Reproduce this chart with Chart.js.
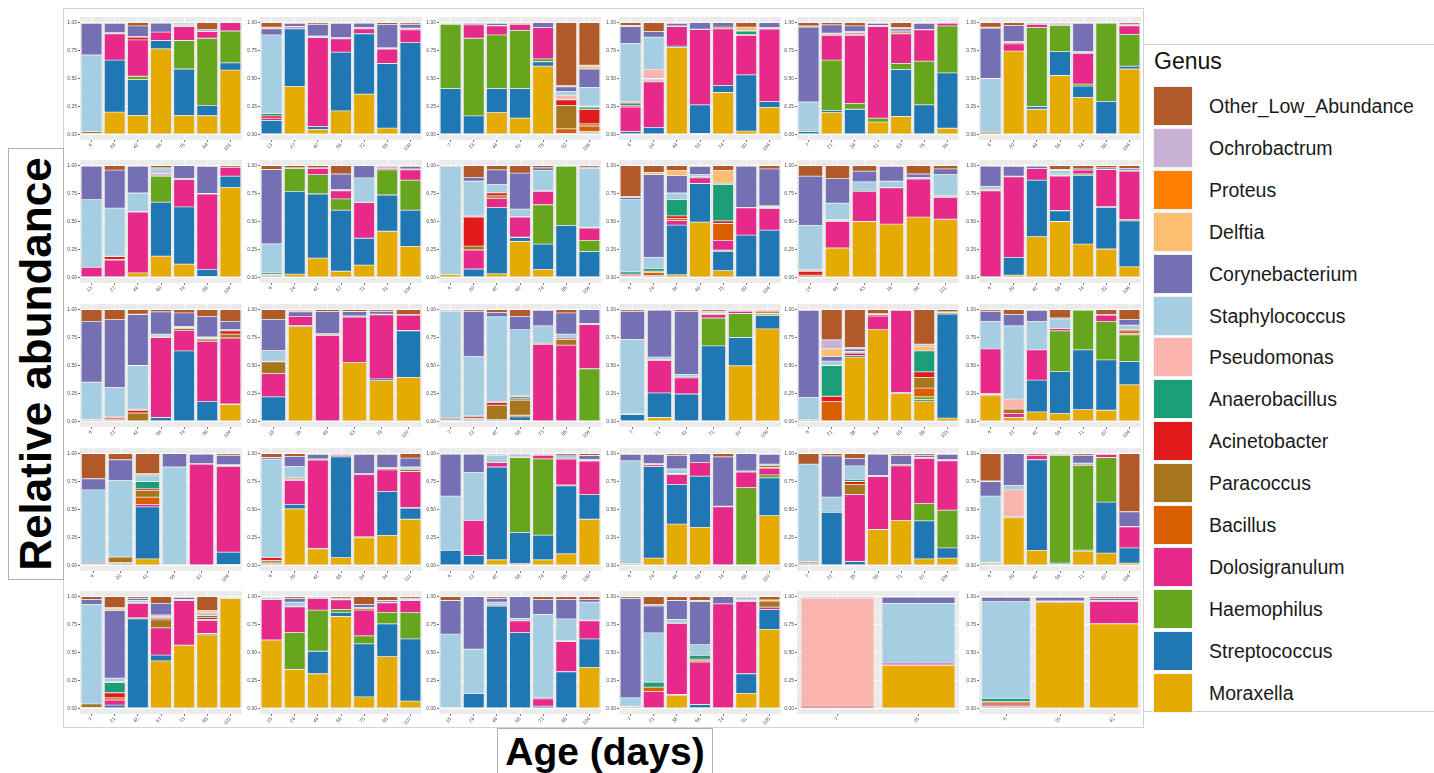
<!DOCTYPE html>
<html>
<head>
<meta charset="utf-8">
<script src="https://cdn.jsdelivr.net/npm/chart.js@4.4.1/dist/chart.umd.min.js"></script>
<style>
  html, body { margin: 0; padding: 0; background: #ffffff; }
  body { width: 1434px; height: 773px; position: relative; overflow: hidden;
         font-family: "Liberation Sans", Arial, Helvetica, sans-serif; }
  .panel { position: absolute; }
  .frame { position: absolute; border: 1px solid #d4d4d4; box-sizing: border-box; }
  #ylab { position: absolute; left: 8px; top: 148px; width: 56px; height: 432px;
          border: 1px solid #b0b0b0; box-sizing: border-box; background: #fff; }
  #ylab span { position: absolute; left: 50%; top: 50%; white-space: nowrap;
               transform: translate(-50%, -50%) rotate(-90deg);
               font-weight: bold; font-size: 44px; color: #000; }
  #xlab { position: absolute; left: 497px; top: 728px; width: 216px; height: 45px;
          border: 1px solid #b0b0b0; border-bottom: none; box-sizing: border-box; background: #fff;
          text-align: center; font-weight: bold; font-size: 39px; line-height: 45px; color: #000; }
  #legend { position: absolute; left: 1143px; top: 44px; width: 291px; height: 668px;
            border-top: 1px solid #d0d0d0; border-left: 1px solid #d0d0d0; border-bottom: 1px solid #d0d0d0;
            box-sizing: border-box; background: #fff; }
  #legend .title { position: absolute; left: 10px; top: 3px; font-size: 23px; color: #111; }
  #legend .item { position: absolute; left: 9px; height: 41px; }
  #legend .sw { position: absolute; left: 0; top: 0; width: 40px; height: 40px; box-sizing: border-box;
                border: 1px solid #f2f2f2; }
  #legend .lab { position: absolute; left: 56px; top: 0; line-height: 40px; font-size: 19.5px;
                 color: #1a1a1a; white-space: nowrap; }
</style>
</head>
<body>
<div class="frame" style="left:63px;top:8px;width:1081px;height:720px;"></div>
<div id="panels"></div>
<div id="ylab"><span>Relative abundance</span></div>
<div id="xlab">Age (days)</div>
<div id="legend"></div>

<script>
// Genera, bottom of each stack first.
const genusCodes  = ['M','S','H','D','B','P','A','N','U','T','C','F','R','O','X'];
const genusNames  = ['Moraxella','Streptococcus','Haemophilus','Dolosigranulum','Bacillus','Paracoccus',
                     'Acinetobacter','Anaerobacillus','Pseudomonas','Staphylococcus','Corynebacterium',
                     'Delftia','Proteus','Ochrobactrum','Other_Low_Abundance'];
const genusColors = ['#E6AB02','#1F78B4','#66A61E','#E7298A','#D95F02','#A6761D',
                     '#E31A1C','#1B9E77','#FBB4AE','#A6CEE3','#7570B3',
                     '#FDBF6F','#FF7F00','#CAB2D6','#B15928'];
const yTicks = [0, 0.25, 0.5, 0.75, 1];

// ---- Row 1 ----
const ages_r1c1 = ['6','20','42','56','76','84','101'];
const bars_r1c1 = [
  {M:.01,P:.015,T:.685,C:.28,X:.01},
  {M:.2,S:.465,D:.235,T:.01,C:.08,X:.01},
  {M:.17,S:.32,H:.03,D:.325,A:.025,T:.005,C:.095,X:.03},
  {M:.765,S:.075,D:.075,C:.08,X:.005},
  {M:.17,S:.415,H:.255,D:.125,N:.01,T:.01,C:.01,X:.005},
  {M:.167,S:.093,H:.6,D:.06,T:.005,C:.015,X:.06},
  {M:.575,S:.065,H:.285,D:.075}
];
const ages_r1c2 = ['13','27','42','56','72','85','100'];
const bars_r1c2 = [
  {M:.005,S:.12,D:.02,A:.02,N:.02,T:.705,C:.055,F:.015,X:.04},
  {M:.43,S:.515,D:.015,T:.005,C:.025,X:.01},
  {M:.045,S:.025,D:.795,N:.005,T:.01,C:.105,X:.015},
  {M:.21,S:.525,D:.12,T:.01,C:.125,X:.01},
  {M:.36,S:.54,D:.045,P:.01,C:.04,X:.005},
  {M:.057,S:.577,D:.13,A:.005,T:.005,C:.21,X:.016},
  {M:.005,S:.815,D:.115,A:.01,T:.005,C:.035,X:.015}
];
const ages_r1c3 = ['7','23','44','61','75','92','106'];
const bars_r1c3 = [
  {M:.005,S:.405,H:.575,T:.005,C:.005,X:.005},
  {M:.005,S:.16,H:.695,D:.12,C:.01,X:.01},
  {M:.195,S:.215,H:.48,D:.08,T:.005,C:.015,X:.01},
  {M:.145,S:.265,H:.52,D:.055,C:.005,X:.01},
  {M:.61,S:.04,H:.025,D:.28,C:.045},
  {M:.005,S:.005,N:.005,B:.04,P:.21,A:.05,U:.035,T:.035,C:.04,O:.01,X:.565},
  {M:.015,S:.01,B:.05,P:.02,A:.13,N:.02,U:.01,T:.165,C:.165,F:.025,O:.01,X:.38}
];
const ages_r1c4 = ['6','24','44','59','74','89','104'];
const bars_r1c4 = [
  {M:.005,S:.02,D:.22,A:.015,N:.02,U:.015,T:.52,C:.15,F:.01,X:.025},
  {M:.005,S:.058,D:.407,A:.01,P:.01,N:.01,U:.08,T:.29,C:.05,X:.08},
  {M:.778,S:.012,D:.175,N:.005,C:.02,X:.01},
  {M:.01,S:.255,D:.672,T:.005,C:.058},
  {M:.375,S:.063,D:.507,P:.015,C:.04},
  {M:.03,S:.503,D:.352,A:.01,N:.03,F:.03,C:.005,X:.04},
  {M:.242,S:.052,D:.648,A:.005,T:.008,C:.045}
];
const ages_r1c5 = ['7','21','34','51','63','76','96'];
const bars_r1c5 = [
  {M:.005,S:.02,A:.005,N:.01,T:.25,C:.67,F:.01,X:.03},
  {M:.195,S:.02,H:.45,D:.22,A:.01,N:.005,T:.005,C:.075,X:.02},
  {M:.005,S:.22,H:.05,D:.61,B:.01,A:.01,N:.005,T:.01,C:.05,X:.03},
  {M:.11,H:.035,D:.82,T:.01,C:.015,X:.01},
  {M:.16,S:.42,H:.055,D:.265,A:.01,P:.015,F:.01,C:.02,X:.045},
  {M:.005,S:.26,H:.39,D:.28,T:.005,C:.05,X:.01},
  {M:.055,S:.495,H:.42,D:.025,X:.005}
];
const ages_r1c6 = ['6','20','44','56','74','88','104'];
const bars_r1c6 = [
  {M:.005,P:.015,T:.48,C:.45,F:.01,X:.04},
  {M:.745,D:.065,A:.01,T:.01,C:.145,X:.025},
  {M:.225,S:.025,H:.705,D:.03,C:.01,X:.005},
  {M:.527,S:.213,H:.235,D:.01,C:.01,X:.005},
  {M:.331,S:.101,H:.018,D:.276,A:.005,T:.01,C:.249,X:.01},
  {M:.005,S:.29,H:.7,D:.005},
  {M:.585,S:.025,H:.285,D:.075,T:.005,C:.01,X:.015}
];

// ---- Row 2 ----
const ages_r2c1 = ['13','27','44','60','74','88','104'];
const bars_r2c1 = [
  {M:.005,D:.085,T:.605,C:.3,X:.005},
  {M:.005,D:.15,A:.025,P:.005,N:.005,T:.43,C:.34,X:.04},
  {M:.04,D:.545,A:.005,T:.165,C:.24,X:.005},
  {M:.19,S:.483,H:.232,D:.01,A:.01,N:.005,T:.04,C:.01,X:.02},
  {M:.118,S:.512,D:.246,T:.01,C:.114},
  {M:.01,S:.062,D:.674,N:.005,C:.239,X:.01},
  {M:.803,S:.102,D:.08,X:.015}
];
const ages_r2c2 = ['6','24','42','57','72','91','104'];
const bars_r2c2 = [
  {M:.005,S:.01,P:.01,A:.005,N:.015,T:.255,C:.665,X:.035},
  {M:.03,S:.74,H:.205,D:.005,X:.02},
  {M:.173,S:.573,H:.173,D:.056,C:.005,X:.02},
  {M:.055,S:.546,H:.101,D:.073,A:.005,T:.005,C:.14,X:.075},
  {M:.11,S:.24,N:.005,D:.318,T:.217,C:.11},
  {M:.413,S:.324,H:.225,D:.013,T:.005,C:.01,X:.01},
  {M:.277,S:.324,H:.269,D:.092,T:.008,C:.02,X:.01}
];
const ages_r2c3 = ['6','20','42','60','74','88','106'];
const bars_r2c3 = [
  {M:.025,T:.97,X:.005},
  {M:.005,S:.07,D:.17,P:.035,A:.26,U:.01,T:.31,C:.035,X:.105},
  {M:.032,S:.592,D:.084,P:.022,A:.027,T:.075,C:.13,X:.038},
  {M:.321,S:.034,D:.18,H:.005,N:.005,T:.065,C:.323,X:.067},
  {M:.07,S:.228,H:.352,D:.12,N:.005,T:.18,C:.025,X:.02},
  {M:.005,S:.46,H:.53,X:.005},
  {M:.005,S:.226,H:.101,D:.11,A:.008,T:.525,C:.01,X:.015}
];
const ages_r2c4 = ['6','24','34','60','75','89','104'];
const bars_r2c4 = [
  {M:.005,S:.005,D:.01,A:.01,N:.02,T:.645,C:.02,O:.01,X:.275},
  {M:.005,S:.01,B:.03,A:.01,N:.025,T:.1,C:.74,F:.02,X:.06},
  {M:.023,S:.445,D:.04,B:.02,A:.022,N:.145,T:.06,C:.155,F:.045,X:.045},
  {M:.494,S:.346,D:.05,N:.01,T:.02,C:.07,X:.01},
  {M:.06,S:.174,H:.01,D:.088,B:.15,A:.024,N:.326,F:.116,C:.01,X:.042},
  {M:.005,S:.374,D:.242,T:.005,C:.369,X:.005},
  {M:.005,S:.417,D:.193,B:.01,U:.01,T:.005,C:.33,X:.03}
];
const ages_r2c5 = ['14','46','63','78','94','111'];
const bars_r2c5 = [
  {M:.005,P:.015,A:.035,U:.015,T:.395,C:.44,X:.095},
  {M:.263,D:.235,A:.01,U:.01,T:.145,C:.22,X:.117},
  {M:.5,D:.27,N:.01,T:.075,C:.095,X:.05},
  {M:.477,D:.323,N:.005,T:.055,C:.13,X:.01},
  {M:.54,D:.34,T:.015,C:.03,X:.075},
  {M:.52,D:.197,U:.013,T:.19,C:.05,X:.03}
];
const ages_r2c6 = ['6','20','42','56','74','92','106'];
const bars_r2c6 = [
  {M:.005,D:.77,U:.01,T:.03,C:.18,X:.005},
  {M:.02,S:.16,D:.72,T:.005,C:.085,X:.01},
  {M:.364,S:.506,D:.105,C:.02,X:.005},
  {M:.5,S:.095,D:.307,H:.005,A:.008,N:.01,T:.03,C:.005,F:.005,X:.035},
  {M:.298,S:.615,H:.012,D:.035,C:.01,X:.03},
  {M:.254,S:.373,D:.333,H:.005,C:.015,X:.02},
  {M:.095,S:.411,D:.434,H:.01,T:.01,C:.015,X:.025}
];

// ---- Row 3 ----
const ages_r3c1 = ['6','22','42','56','74','90','104'];
const bars_r3c1 = [
  {M:.005,P:.01,U:.005,T:.33,C:.545,X:.105},
  {M:.015,A:.015,U:.01,T:.265,C:.605,X:.09},
  {M:.005,P:.07,A:.025,U:.01,T:.39,C:.455,F:.005,X:.04},
  {M:.005,S:.03,D:.715,P:.01,N:.01,T:.01,C:.2,X:.02},
  {M:.005,S:.625,D:.185,P:.015,A:.01,T:.01,C:.12,X:.03},
  {M:.005,S:.175,D:.537,P:.02,A:.008,T:.01,C:.185,X:.06},
  {M:.15,S:.006,D:.59,P:.034,A:.03,T:.01,C:.075,X:.105}
];
const ages_r3c2 = ['18','35','49','63','78','107'];
const bars_r3c2 = [
  {M:.005,S:.215,D:.208,P:.104,A:.008,T:.096,C:.277,X:.087},
  {M:.847,S:.01,D:.083,F:.01,C:.04,X:.01},
  {M:.005,D:.764,P:.01,T:.005,C:.2,X:.016},
  {M:.526,D:.407,T:.01,C:.04,X:.017},
  {M:.364,S:.016,D:.574,T:.005,C:.026,X:.015},
  {M:.393,S:.416,H:.005,D:.136,C:.005,X:.045}
];
const ages_r3c3 = ['7','22','42','58','73','88','106'];
const bars_r3c3 = [
  {M:.005,S:.005,A:.01,N:.01,T:.955,C:.005,X:.01},
  {M:.005,S:.01,A:.015,P:.01,N:.01,T:.53,C:.405,X:.015},
  {M:.005,S:.01,P:.13,A:.025,U:.005,T:.76,C:.04,X:.025},
  {M:.01,S:.03,B:.015,P:.135,A:.012,N:.018,U:.01,T:.59,C:.12,X:.06},
  {M:.005,D:.685,P:.01,T:.155,C:.135,X:.01},
  {M:.005,D:.677,P:.05,A:.013,T:.035,C:.19,X:.03},
  {M:.005,H:.466,D:.395,T:.01,C:.124}
];
const ages_r3c4 = ['7','21','42','71','87','100'];
const bars_r3c4 = [
  {M:.005,S:.055,A:.008,T:.665,C:.252,X:.015},
  {M:.035,S:.22,D:.29,A:.008,T:.022,C:.42,X:.005},
  {M:.005,S:.24,D:.145,A:.008,T:.022,C:.565,X:.015},
  {M:.005,S:.67,H:.25,D:.03,A:.01,N:.01,T:.01,X:.015},
  {M:.497,S:.254,H:.214,D:.02,T:.005,X:.01},
  {M:.827,S:.121,H:.012,D:.005,B:.015,R:.01,X:.01}
];
const ages_r3c5 = ['6','21','38','54','69','88','103'];
const bars_r3c5 = [
  {M:.005,P:.01,T:.2,C:.775,X:.01},
  {M:.005,B:.175,A:.045,N:.275,T:.04,C:.04,F:.07,O:.08,X:.27},
  {M:.575,S:.015,A:.02,T:.015,C:.025,F:.01,X:.34},
  {M:.82,D:.122,A:.01,T:.005,C:.01,X:.033},
  {M:.248,S:.01,D:.732,X:.01},
  {M:.182,S:.013,H:.025,B:.078,P:.095,A:.05,N:.187,F:.043,O:.017,X:.31},
  {M:.03,S:.93,H:.01,N:.005,T:.005,X:.02}
];
const ages_r3c6 = ['6','22','42','56','71','87','104'];
const bars_r3c6 = [
  {M:.235,S:.008,D:.4,H:.005,T:.247,C:.09,X:.015},
  {M:.035,D:.035,P:.04,U:.09,T:.655,C:.1,X:.045},
  {M:.085,S:.285,D:.27,T:.255,C:.095,X:.01},
  {M:.07,S:.375,H:.365,D:.02,T:.085,C:.01,X:.075},
  {M:.105,S:.535,H:.355,X:.005},
  {M:.1,S:.45,H:.345,D:.055,T:.005,X:.045},
  {M:.327,S:.208,H:.24,B:.025,A:.01,D:.01,T:.04,C:.05,X:.09}
];

// ---- Row 4 ----
const ages_r4c1 = ['6','20','42','56','87','104'];
const bars_r4c1 = [
  {M:.005,S:.005,P:.01,T:.655,C:.1,X:.225},
  {M:.005,S:.01,P:.05,B:.01,T:.685,C:.185,X:.055},
  {M:.058,S:.465,D:.022,B:.065,P:.058,A:.017,N:.064,T:.051,C:.01,F:.01,X:.18},
  {M:.005,P:.005,T:.87,C:.12},
  {M:.005,D:.9,N:.005,C:.085,X:.005},
  {M:.01,S:.108,N:.007,D:.765,P:.01,C:.085,X:.015}
];
const ages_r4c2 = ['6','20','42','58','84','94','111'];
const bars_r4c2 = [
  {M:.005,S:.01,B:.015,P:.015,A:.025,T:.88,C:.015,X:.035},
  {M:.506,S:.04,D:.214,B:.01,P:.01,N:.005,T:.1,C:.09,X:.025},
  {M:.147,S:.005,D:.79,T:.01,C:.038,X:.01},
  {M:.069,S:.902,D:.014,N:.005,X:.01},
  {M:.246,H:.01,D:.556,N:.008,C:.17,X:.01},
  {M:.269,S:.393,D:.193,A:.01,T:.01,C:.115,X:.01},
  {M:.413,S:.099,D:.323,P:.02,H:.005,N:.01,T:.01,C:.08,X:.04}
];
const ages_r4c3 = ['6','22','42','58','74','88','100'];
const bars_r4c3 = [
  {M:.005,S:.13,T:.485,C:.375,X:.005},
  {M:.005,S:.085,D:.312,T:.43,C:.163,X:.005},
  {M:.05,S:.83,D:.04,T:.065,C:.01,X:.005},
  {M:.015,S:.28,H:.67,D:.01,T:.015,X:.01},
  {M:.05,S:.22,H:.683,D:.032,C:.005,X:.01},
  {M:.104,S:.607,H:.009,D:.231,T:.02,C:.015,X:.014},
  {M:.413,S:.22,D:.3,B:.005,T:.01,C:.035,X:.017}
];
const ages_r4c4 = ['6','24','44','59','74','88','107'];
const bars_r4c4 = [
  {M:.005,P:.01,T:.92,C:.055,X:.01},
  {M:.066,S:.818,D:.016,T:.01,C:.08,X:.01},
  {M:.37,S:.355,D:.087,N:.01,T:.04,C:.123,X:.015},
  {M:.341,S:.457,D:.121,C:.081},
  {M:.005,D:.518,P:.008,C:.44,X:.029},
  {M:.005,H:.69,D:.14,T:.01,C:.155},
  {M:.445,S:.338,H:.026,D:.061,P:.02,B:.005,T:.01,C:.085,X:.01}
];
const ages_r4c5 = ['7','22','35','50','71','87','106'];
const bars_r4c5 = [
  {M:.005,S:.01,N:.005,P:.015,T:.87,X:.095},
  {M:.005,S:.47,N:.01,T:.125,C:.37,X:.02},
  {M:.005,S:.03,D:.6,P:.09,A:.025,N:.02,T:.12,C:.065,X:.045},
  {M:.321,D:.474,T:.01,C:.19,X:.005},
  {M:.402,D:.488,P:.01,C:.085,X:.015},
  {M:.058,S:.341,H:.153,D:.405,T:.01,C:.018,X:.015},
  {M:.066,S:.09,H:.338,D:.442,T:.009,C:.045,X:.01}
];
const ages_r4c6 = ['6','20','42','56','71','87','104'];
const bars_r4c6 = [
  {M:.005,S:.01,A:.005,P:.01,T:.59,C:.13,F:.005,X:.245},
  {M:.425,P:.01,U:.24,T:.04,C:.285},
  {M:.135,S:.81,D:.04,X:.015},
  {M:.01,S:.01,H:.965,D:.005,X:.01},
  {M:.127,S:.01,H:.758,D:.01,T:.01,C:.07,X:.015},
  {M:.11,S:.456,H:.399,D:.025,X:.01},
  {M:.02,S:.136,D:.188,T:.005,C:.131,X:.52}
];

// ---- Row 5 ----
const ages_r5c1 = ['7','21','42','57','73','88','102'];
const bars_r5c1 = [
  {M:.005,S:.005,P:.03,T:.89,C:.045,X:.025},
  {M:.005,S:.025,D:.045,B:.02,A:.045,N:.09,U:.01,T:.03,C:.605,F:.015,O:.01,X:.1},
  {M:.005,S:.795,D:.13,H:.01,N:.005,T:.02,C:.02,X:.015},
  {M:.425,S:.052,D:.244,P:.07,A:.015,U:.015,T:.015,C:.104,X:.06},
  {M:.565,D:.4,T:.01,C:.015,X:.01},
  {M:.658,S:.012,D:.115,A:.02,B:.01,N:.015,U:.03,F:.015,X:.125},
  {M:.983,N:.005,T:.005,X:.007}
];
const ages_r5c2 = ['15','24','44','58','75','88','107'];
const bars_r5c2 = [
  {M:.612,D:.362,C:.006,T:.015,X:.005},
  {M:.348,H:.33,D:.23,A:.005,T:.037,C:.035,X:.015},
  {M:.31,S:.201,H:.368,D:.106,C:.01,X:.005},
  {M:.822,S:.037,H:.026,D:.085,T:.005,C:.01,X:.015},
  {M:.103,S:.475,H:.071,D:.23,P:.015,T:.01,C:.026,X:.07},
  {M:.463,S:.293,H:.103,D:.086,T:.005,C:.015,X:.035},
  {M:.066,S:.555,H:.235,D:.109,T:.01,C:.01,X:.015}
];
const ages_r5c3 = ['15','24','44','58','72','88','104'];
const bars_r5c3 = [
  {M:.005,U:.005,T:.655,C:.3,X:.035},
  {M:.005,S:.127,T:.397,C:.471},
  {M:.005,S:.91,D:.01,T:.025,C:.035,X:.015},
  {M:.005,S:.673,D:.106,T:.02,C:.196},
  {M:.005,S:.015,D:.065,A:.01,T:.745,C:.135,X:.025},
  {M:.005,S:.323,D:.27,A:.007,T:.195,C:.175,X:.025},
  {M:.365,S:.256,D:.163,A:.006,T:.16,C:.025,X:.025}
];
const ages_r5c4 = ['7','21','38','56','74','91','105'];
const bars_r5c4 = [
  {M:.005,P:.01,N:.005,T:.075,C:.89,X:.015},
  {M:.005,D:.145,B:.04,N:.045,T:.44,C:.24,O:.015,X:.07},
  {M:.118,H:.007,D:.635,N:.01,T:.025,C:.17,X:.035},
  {M:.005,S:.03,D:.38,B:.015,A:.01,N:.035,T:.095,C:.385,F:.01,X:.035},
  {M:.005,D:.93,C:.065},
  {M:.135,S:.175,D:.645,N:.01,T:.015,C:.01,X:.01},
  {M:.707,S:.178,D:.02,P:.055,F:.01,X:.03}
];
const ages_r5c5 = ['7','25'];
const bars_r5c5 = [
  {M:.005,A:.015,U:.965,T:.005,C:.01},
  {M:.384,S:.006,D:.015,T:.533,C:.057,X:.005}
];
const ages_r5c6 = ['6','20','41'];
const bars_r5c6 = [
  {M:.005,S:.01,D:.015,B:.02,A:.01,N:.03,T:.865,C:.035,X:.01},
  {M:.946,D:.01,T:.005,C:.029,X:.01},
  {M:.757,D:.2,T:.01,C:.018,X:.015}
];

// Grid of panels, row by row.
const panelGrid = [
  [[ages_r1c1,bars_r1c1],[ages_r1c2,bars_r1c2],[ages_r1c3,bars_r1c3],[ages_r1c4,bars_r1c4],[ages_r1c5,bars_r1c5],[ages_r1c6,bars_r1c6]],
  [[ages_r2c1,bars_r2c1],[ages_r2c2,bars_r2c2],[ages_r2c3,bars_r2c3],[ages_r2c4,bars_r2c4],[ages_r2c5,bars_r2c5],[ages_r2c6,bars_r2c6]],
  [[ages_r3c1,bars_r3c1],[ages_r3c2,bars_r3c2],[ages_r3c3,bars_r3c3],[ages_r3c4,bars_r3c4],[ages_r3c5,bars_r3c5],[ages_r3c6,bars_r3c6]],
  [[ages_r4c1,bars_r4c1],[ages_r4c2,bars_r4c2],[ages_r4c3,bars_r4c3],[ages_r4c4,bars_r4c4],[ages_r4c5,bars_r4c5],[ages_r4c6,bars_r4c6]],
  [[ages_r5c1,bars_r5c1],[ages_r5c2,bars_r5c2],[ages_r5c3,bars_r5c3],[ages_r5c4,bars_r5c4],[ages_r5c5,bars_r5c5],[ages_r5c6,bars_r5c6]]
];

// Layout of the facet grid (pixels).
const plotLeft  = [80, 260, 439, 619, 797, 979];   // left edge of each grey plot area
const plotWidth = 162;
const rowOne    = [19, 162, 306, 450, 593];         // pixel row of the 1.00 gridline
const unitPx    = 115;                              // pixels per 1.0 of abundance
const yAxisW    = 15;
const xAxisH    = 13;

// Grey panel background and thin minor gridlines, ggplot style.
const panelBg = {
  id: 'panelBg',
  beforeDraw(chart) {
    const { ctx, chartArea: a, scales } = chart;
    ctx.save();
    ctx.fillStyle = '#EBEBEB';
    ctx.fillRect(a.left, a.top, a.width, a.height);
    ctx.strokeStyle = '#F7F7F7';
    ctx.lineWidth = 0.5;
    [0.125, 0.375, 0.625, 0.875].forEach(v => {
      const y = Math.round(scales.y.getPixelForValue(v)) + 0.25;
      ctx.beginPath(); ctx.moveTo(a.left, y); ctx.lineTo(a.right, y); ctx.stroke();
    });
    ctx.restore();
  }
};

const host = document.getElementById('panels');
panelGrid.forEach((row, r) => {
  row.forEach(([ages, bars], c) => {
    const top = rowOne[r] - 0.05 * unitPx;
    const h = 1.1 * unitPx;
    const box = document.createElement('div');
    box.className = 'panel';
    const W = plotWidth + yAxisW, H = Math.round(h) + xAxisH;
    box.style.left = (plotLeft[c] - yAxisW) + 'px';
    box.style.top = Math.round(top) + 'px';
    box.style.width = W + 'px';
    box.style.height = H + 'px';
    const cv = document.createElement('canvas');
    cv.width = W; cv.height = H;
    cv.style.width = W + 'px'; cv.style.height = H + 'px';
    box.appendChild(cv);
    host.appendChild(box);

    const datasets = genusCodes.map((code, gi) => ({
      label: genusNames[gi],
      data: bars.map(b => b[code] || 0),
      backgroundColor: genusColors[gi],
      borderColor: 'rgba(235,235,235,0.55)',
      borderWidth: 0.4,
      borderSkipped: false,
      barPercentage: 0.9,
      categoryPercentage: 1.0
    }));

    new Chart(cv, {
      type: 'bar',
      data: { labels: ages, datasets },
      plugins: [panelBg],
      options: {
        responsive: false,
        animation: false,
        devicePixelRatio: 1,
        layout: { padding: 0, autoPadding: false },
        plugins: { legend: { display: false }, tooltip: { enabled: false } },
        scales: {
          x: {
            stacked: true,
            offset: true,
            grid: { color: '#FFFFFF', lineWidth: 0.8, offset: false, tickLength: 2, tickColor: '#555555' },
            border: { display: false },
            ticks: { font: { size: 5, family: 'Liberation Sans' }, color: '#4D4D4D',
                     maxRotation: 45, minRotation: 45, padding: 0, autoSkip: false },
            afterFit(s) { s.height = xAxisH; }
          },
          y: {
            stacked: true,
            min: -0.05, max: 1.05,
            afterBuildTicks(s) { s.ticks = yTicks.map(v => ({ value: v })); },
            grid: { color: '#FFFFFF', lineWidth: 0.9, tickLength: 2, tickColor: '#555555' },
            border: { display: false },
            ticks: { font: { size: 5, family: 'Liberation Sans' }, color: '#4D4D4D', padding: 1,
                     callback: v => Number(v).toFixed(2) },
            afterFit(s) { s.width = yAxisW; }
          }
        }
      }
    });
  });
});

// Legend: top entry is the top of each stack.
const legend = document.getElementById('legend');
const t = document.createElement('div');
t.className = 'title'; t.textContent = 'Genus';
legend.appendChild(t);
const legendOrder = genusCodes.map((_, i) => i).reverse();
legendOrder.forEach((gi, k) => {
  const it = document.createElement('div');
  it.className = 'item';
  it.style.top = (41 + k * 41.9) + 'px';
  const sw = document.createElement('div');
  sw.className = 'sw'; sw.style.background = genusColors[gi];
  const lb = document.createElement('div');
  lb.className = 'lab'; lb.textContent = genusNames[gi];
  it.appendChild(sw); it.appendChild(lb);
  legend.appendChild(it);
});
</script>
</body>
</html>
